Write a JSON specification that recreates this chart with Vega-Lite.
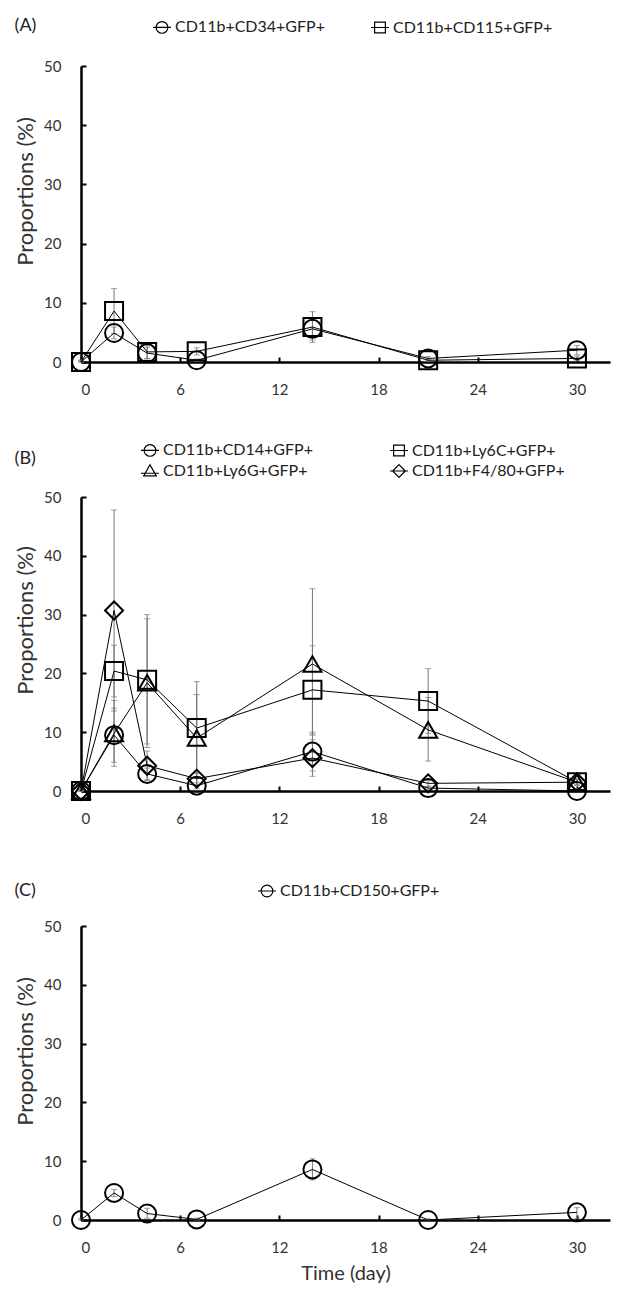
{
  "$schema": "https://vega.github.io/schema/vega-lite/v6.json",
  "background": "white",
  "padding": {"left": 14, "top": 17, "right": 5, "bottom": 5},
  "bounds": "flush",
  "spacing": 135,
  "datasets": {
    "A": [
      {"day": 0, "series": "CD11b+CD34+GFP+", "value": 0, "lo": 0, "hi": 0.3},
      {"day": 2, "series": "CD11b+CD34+GFP+", "value": 4.9, "lo": 3.9, "hi": 5.9},
      {"day": 4, "series": "CD11b+CD34+GFP+", "value": 1.5, "lo": 0.5, "hi": 2.5},
      {"day": 7, "series": "CD11b+CD34+GFP+", "value": 0.3, "lo": 0.1, "hi": 0.5},
      {"day": 14, "series": "CD11b+CD34+GFP+", "value": 5.6, "lo": 3.7, "hi": 7.5},
      {"day": 21, "series": "CD11b+CD34+GFP+", "value": 0.6, "lo": 0.3, "hi": 0.9},
      {"day": 30, "series": "CD11b+CD34+GFP+", "value": 2.0, "lo": 1.2, "hi": 2.8},
      {"day": 0, "series": "CD11b+CD115+GFP+", "value": 0, "lo": 0, "hi": 0.3},
      {"day": 2, "series": "CD11b+CD115+GFP+", "value": 8.6, "lo": 4.8, "hi": 12.4},
      {"day": 4, "series": "CD11b+CD115+GFP+", "value": 1.7, "lo": 0.6, "hi": 2.8},
      {"day": 7, "series": "CD11b+CD115+GFP+", "value": 1.8, "lo": 1.2, "hi": 2.4},
      {"day": 14, "series": "CD11b+CD115+GFP+", "value": 5.9, "lo": 3.3, "hi": 8.5},
      {"day": 21, "series": "CD11b+CD115+GFP+", "value": 0.3, "lo": 0.1, "hi": 0.5},
      {"day": 30, "series": "CD11b+CD115+GFP+", "value": 0.6, "lo": 0.2, "hi": 1.0}
    ],
    "B": [
      {"day": 0, "series": "CD11b+CD14+GFP+", "value": 0, "lo": 0, "hi": 0.3},
      {"day": 2, "series": "CD11b+CD14+GFP+", "value": 9.5, "lo": 4.9, "hi": 14.1},
      {"day": 4, "series": "CD11b+CD14+GFP+", "value": 2.9, "lo": 1.9, "hi": 3.9},
      {"day": 7, "series": "CD11b+CD14+GFP+", "value": 0.9, "lo": 0.4, "hi": 1.4},
      {"day": 14, "series": "CD11b+CD14+GFP+", "value": 6.7, "lo": 3.4, "hi": 10.0},
      {"day": 21, "series": "CD11b+CD14+GFP+", "value": 0.5, "lo": 0.2, "hi": 0.8},
      {"day": 30, "series": "CD11b+CD14+GFP+", "value": 0, "lo": 0, "hi": 0.3},
      {"day": 0, "series": "CD11b+Ly6C+GFP+", "value": 0, "lo": 0, "hi": 0.3},
      {"day": 2, "series": "CD11b+Ly6C+GFP+", "value": 20.4, "lo": 16.0, "hi": 24.8},
      {"day": 4, "series": "CD11b+Ly6C+GFP+", "value": 18.9, "lo": 8.0, "hi": 30.0},
      {"day": 7, "series": "CD11b+Ly6C+GFP+", "value": 10.7, "lo": 3.0, "hi": 18.6},
      {"day": 14, "series": "CD11b+Ly6C+GFP+", "value": 17.2, "lo": 9.7, "hi": 24.7},
      {"day": 21, "series": "CD11b+Ly6C+GFP+", "value": 15.3, "lo": 9.8, "hi": 20.8},
      {"day": 30, "series": "CD11b+Ly6C+GFP+", "value": 1.5, "lo": 1.0, "hi": 2.0},
      {"day": 0, "series": "CD11b+Ly6G+GFP+", "value": 0, "lo": 0, "hi": 0.3},
      {"day": 2, "series": "CD11b+Ly6G+GFP+", "value": 9.8, "lo": 4.2, "hi": 15.4},
      {"day": 4, "series": "CD11b+Ly6G+GFP+", "value": 18.4, "lo": 7.4, "hi": 29.3},
      {"day": 7, "series": "CD11b+Ly6G+GFP+", "value": 9.0, "lo": 1.0, "hi": 16.4},
      {"day": 14, "series": "CD11b+Ly6G+GFP+", "value": 21.6, "lo": 9.5, "hi": 34.4},
      {"day": 21, "series": "CD11b+Ly6G+GFP+", "value": 10.4, "lo": 5.1, "hi": 15.9},
      {"day": 30, "series": "CD11b+Ly6G+GFP+", "value": 1.5, "lo": 1.0, "hi": 2.0},
      {"day": 0, "series": "CD11b+F4/80+GFP+", "value": 0, "lo": 0, "hi": 0.3},
      {"day": 2, "series": "CD11b+F4/80+GFP+", "value": 30.7, "lo": 13.6, "hi": 47.8},
      {"day": 4, "series": "CD11b+F4/80+GFP+", "value": 4.3, "lo": 1.8, "hi": 6.8},
      {"day": 7, "series": "CD11b+F4/80+GFP+", "value": 2.1, "lo": 1.1, "hi": 3.1},
      {"day": 14, "series": "CD11b+F4/80+GFP+", "value": 5.6, "lo": 2.5, "hi": 8.7},
      {"day": 21, "series": "CD11b+F4/80+GFP+", "value": 1.3, "lo": 0.8, "hi": 1.8},
      {"day": 30, "series": "CD11b+F4/80+GFP+", "value": 1.5, "lo": 1.0, "hi": 2.0}
    ],
    "C": [
      {"day": 0, "series": "CD11b+CD150+GFP+", "value": 0, "lo": 0, "hi": 0.2},
      {"day": 2, "series": "CD11b+CD150+GFP+", "value": 4.6, "lo": 4.0, "hi": 5.2},
      {"day": 4, "series": "CD11b+CD150+GFP+", "value": 1.1, "lo": 0.3, "hi": 2.0},
      {"day": 7, "series": "CD11b+CD150+GFP+", "value": 0.1, "lo": 0, "hi": 0.3},
      {"day": 14, "series": "CD11b+CD150+GFP+", "value": 8.6, "lo": 6.8, "hi": 10.4},
      {"day": 21, "series": "CD11b+CD150+GFP+", "value": 0, "lo": 0, "hi": 0.2},
      {"day": 30, "series": "CD11b+CD150+GFP+", "value": 1.3, "lo": 0.3, "hi": 2.1}
    ]
  },
  "vconcat": [
    {
      "width": 529, "height": 296,
      "title": {"text": "(A)", "dy": 22},
      "data": {"name": "A"},
      "encoding": {
        "x": {"field": "day", "type": "quantitative", "scale": {"domain": [0, 32], "nice": false}, "axis": {"values": [0, 6, 12, 18, 24, 30], "title": null}}
      },
      "layer": [
        {"mark": {"type": "rule", "color": "#777", "strokeWidth": 1}, "encoding": {"y": {"field": "lo", "type": "quantitative"}, "y2": {"field": "hi"}}},
        {"mark": {"type": "tick", "orient": "horizontal", "color": "#777", "size": 6, "thickness": 1}, "encoding": {"y": {"field": "hi", "type": "quantitative"}}},
        {"mark": {"type": "tick", "orient": "horizontal", "color": "#777", "size": 6, "thickness": 1}, "encoding": {"y": {"field": "lo", "type": "quantitative"}}},
        {"mark": {"type": "line", "color": "black", "strokeWidth": 1}, "encoding": {"y": {"field": "value", "type": "quantitative"}, "detail": {"field": "series"}}},
        {"mark": {"type": "point", "filled": false, "size": 324, "strokeWidth": 2, "color": "black", "opacity": 1},
         "encoding": {
           "y": {"field": "value", "type": "quantitative", "scale": {"domain": [0, 50], "nice": false}, "axis": {"values": [0, 10, 20, 30, 40, 50], "title": "Proportions (%)", "titleY": 125}},
           "shape": {"field": "series", "type": "nominal", "scale": {"domain": ["CD11b+CD34+GFP+", "CD11b+CD115+GFP+"], "range": ["circle", "square"]}, "legend": null}
         }},
        {"mark": {"type": "point", "filled": false, "size": 324, "strokeWidth": 1.2, "color": "black", "opacity": 0},
         "encoding": {
           "y": {"field": "value", "type": "quantitative"},
           "shape": {"field": "series", "type": "nominal", "scale": {"domain": ["CD11b+CD34+GFP+", "CD11b+CD115+GFP+"], "range": ["M-1,0H1M0.65,0A0.65,0.65,0,1,1,-0.65,0A0.65,0.65,0,1,1,0.65,0", "M-1,0H1M-0.6,-0.6H0.6V0.6H-0.6Z"]},
             "legend": {"orient": "none", "legendX": 71, "legendY": -49, "columns": 2, "direction": "horizontal", "columnPadding": 43}}
         }}
      ],
      "resolve": {"scale": {"shape": "independent"}}
    },
    {
      "width": 529, "height": 294,
      "title": {"text": "(B)", "dy": 32},
      "data": {"name": "B"},
      "encoding": {
        "x": {"field": "day", "type": "quantitative", "scale": {"domain": [0, 32], "nice": false}, "axis": {"values": [0, 6, 12, 18, 24, 30], "title": null}}
      },
      "layer": [
        {"mark": {"type": "rule", "color": "#777", "strokeWidth": 1}, "encoding": {"y": {"field": "lo", "type": "quantitative"}, "y2": {"field": "hi"}}},
        {"mark": {"type": "tick", "orient": "horizontal", "color": "#777", "size": 6, "thickness": 1}, "encoding": {"y": {"field": "hi", "type": "quantitative"}}},
        {"mark": {"type": "tick", "orient": "horizontal", "color": "#777", "size": 6, "thickness": 1}, "encoding": {"y": {"field": "lo", "type": "quantitative"}}},
        {"mark": {"type": "line", "color": "black", "strokeWidth": 1}, "encoding": {"y": {"field": "value", "type": "quantitative"}, "detail": {"field": "series"}}},
        {"mark": {"type": "point", "filled": false, "size": 324, "strokeWidth": 2, "color": "black", "opacity": 1},
         "encoding": {
           "y": {"field": "value", "type": "quantitative", "scale": {"domain": [0, 50], "nice": false}, "axis": {"values": [0, 10, 20, 30, 40, 50], "title": "Proportions (%)", "titleY": 123}},
           "shape": {"field": "series", "type": "nominal", "scale": {"domain": ["CD11b+CD14+GFP+", "CD11b+Ly6C+GFP+", "CD11b+Ly6G+GFP+", "CD11b+F4/80+GFP+"], "range": ["circle", "square", "triangle-up", "diamond"]}, "legend": null}
         }},
        {"mark": {"type": "point", "filled": false, "size": 324, "strokeWidth": 1.2, "color": "black", "opacity": 0},
         "encoding": {
           "y": {"field": "value", "type": "quantitative"},
           "shape": {"field": "series", "type": "nominal", "scale": {"domain": ["CD11b+CD14+GFP+", "CD11b+Ly6C+GFP+", "CD11b+Ly6G+GFP+", "CD11b+F4/80+GFP+"], "range": ["M-1,0H1M0.65,0A0.65,0.65,0,1,1,-0.65,0A0.65,0.65,0,1,1,0.65,0", "M-1,0H1M-0.6,-0.6H0.6V0.6H-0.6Z", "M-1,0.25H1M0,-0.7L0.7,0.55H-0.7Z", "M-1,0H1M0,-0.7L0.7,0L0,0.7L-0.7,0Z"]},
             "legend": {"orient": "none", "legendX": 59, "legendY": -57, "columns": 2, "direction": "horizontal", "columnPadding": 74, "rowPadding": 2}}
         }}
      ],
      "resolve": {"scale": {"shape": "independent"}}
    },
    {
      "width": 529, "height": 294,
      "title": {"text": "(C)", "dy": 23},
      "data": {"name": "C"},
      "encoding": {
        "x": {"field": "day", "type": "quantitative", "scale": {"domain": [0, 32], "nice": false}, "axis": {"values": [0, 6, 12, 18, 24, 30], "title": "Time (day)"}}
      },
      "layer": [
        {"mark": {"type": "rule", "color": "#777", "strokeWidth": 1}, "encoding": {"y": {"field": "lo", "type": "quantitative"}, "y2": {"field": "hi"}}},
        {"mark": {"type": "tick", "orient": "horizontal", "color": "#777", "size": 6, "thickness": 1}, "encoding": {"y": {"field": "hi", "type": "quantitative"}}},
        {"mark": {"type": "tick", "orient": "horizontal", "color": "#777", "size": 6, "thickness": 1}, "encoding": {"y": {"field": "lo", "type": "quantitative"}}},
        {"mark": {"type": "line", "color": "black", "strokeWidth": 1}, "encoding": {"y": {"field": "value", "type": "quantitative"}, "detail": {"field": "series"}}},
        {"mark": {"type": "point", "filled": false, "size": 324, "strokeWidth": 2, "color": "black", "opacity": 1},
         "encoding": {
           "y": {"field": "value", "type": "quantitative", "scale": {"domain": [0, 50], "nice": false}, "axis": {"values": [0, 10, 20, 30, 40, 50], "title": "Proportions (%)", "titleY": 125}},
           "shape": {"field": "series", "type": "nominal", "scale": {"domain": ["CD11b+CD150+GFP+"], "range": ["circle"]}, "legend": null}
         }},
        {"mark": {"type": "point", "filled": false, "size": 324, "strokeWidth": 1.2, "color": "black", "opacity": 0},
         "encoding": {
           "y": {"field": "value", "type": "quantitative"},
           "shape": {"field": "series", "type": "nominal", "scale": {"domain": ["CD11b+CD150+GFP+"], "range": ["M-1,0H1M0.65,0A0.65,0.65,0,1,1,-0.65,0A0.65,0.65,0,1,1,0.65,0"]},
             "legend": {"orient": "none", "legendX": 176, "legendY": -45}}
         }}
      ],
      "resolve": {"scale": {"shape": "independent"}}
    }
  ],
  "resolve": {"scale": {"shape": "independent", "x": "independent", "y": "independent"}},
  "config": {
    "font": "Lato",
    "view": {"stroke": null},
    "axis": {"domainColor": "black", "domainWidth": 2.5, "tickColor": "black", "tickWidth": 2, "tickSize": -5, "grid": false,
      "labelFont": "Lato", "labelFontSize": 15, "labelColor": "#333", "titleFont": "Lato", "titleFontSize": 20, "titleFontWeight": "normal", "titleColor": "#333"},
    "axisX": {"labelPadding": 25, "titlePadding": 8},
    "axisY": {"labelPadding": 25, "titlePadding": 6, "titleFontSize": 22},
    "legend": {"title": null, "labelFont": "Lato", "labelFontSize": 16, "labelColor": "#222", "symbolSize": 324, "symbolStrokeWidth": 1.2, "symbolStrokeColor": "black", "symbolFillColor": "transparent", "labelOffset": 3},
    "title": {"anchor": "start", "frame": "bounds", "font": "Lato", "fontSize": 18, "fontWeight": "normal", "color": "#222"}
  }
}
